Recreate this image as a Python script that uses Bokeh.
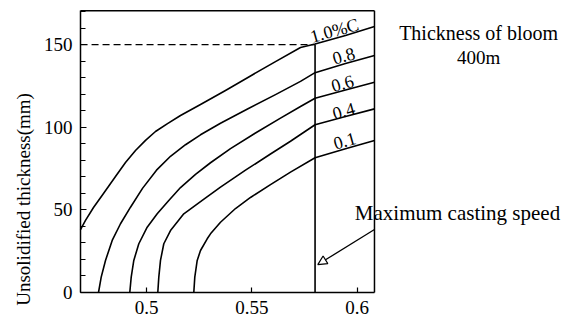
import math
from bokeh.plotting import figure
from bokeh.models import Range1d, FixedTicker, Label, Arrow, NormalHead
from bokeh.embed import file_html
from bokeh.resources import INLINE

# ---------------- data ----------------
# casting speed (x) vs unsolidified thickness in mm (y), one curve per carbon content
c10_x = [0.46868, 0.47105, 0.47485, 0.47959, 0.48529, 0.49003, 0.49478, 0.49953, 0.50427, 0.50997,
         0.51614, 0.52563, 0.53749, 0.54936, 0.56122, 0.57309, 0.58, 0.59445, 0.60821]
c10_y = [38.1, 43.6, 51.4, 59.9, 70.2, 78.6, 85.9, 92.0, 97.4, 102.2,
         107.1, 113.7, 122.2, 131.0, 139.7, 148.2, 150.3, 155.5, 160.9]

c08_x = [0.47722, 0.4785, 0.48054, 0.48372, 0.48766, 0.49241, 0.4981, 0.50475, 0.51139, 0.51851,
         0.52563, 0.53512, 0.54794, 0.56122, 0.57309, 0.58, 0.59445, 0.60821]
c08_y = [0.0, 9.3, 19.4, 31.5, 41.6, 51.6, 63.0, 74.0, 82.4, 89.4,
         95.4, 102.4, 111.0, 119.7, 127.7, 133.0, 138.5, 143.4]

c06_x = [0.49207, 0.49274, 0.49397, 0.49635, 0.50033, 0.50508, 0.51058, 0.51614, 0.52326, 0.53037,
         0.53987, 0.55173, 0.5636, 0.57309, 0.58, 0.59445, 0.60821]
c06_y = [0.0, 9.3, 19.4, 29.5, 39.5, 47.6, 55.7, 63.5, 71.5, 78.5,
         87.0, 96.5, 105.5, 112.5, 117.5, 122.5, 127.2]

c04_x = [0.50536, 0.50584, 0.50664, 0.50821, 0.51139, 0.5177, 0.52644, 0.53512, 0.54699, 0.55885,
         0.56834, 0.58, 0.59445, 0.60821]
c04_y = [0.0, 9.3, 19.4, 29.5, 37.5, 47.6, 55.7, 63.8, 74.0, 83.8,
         91.5, 101.5, 106.5, 111.1]

c01_x = [0.52245, 0.52292, 0.52406, 0.52563, 0.52881, 0.53037, 0.53512, 0.54224, 0.54936, 0.55885,
         0.56834, 0.58, 0.59445, 0.60821]
c01_y = [0.0, 9.3, 19.4, 25.4, 32.5, 35.5, 42.5, 50.8, 57.5, 65.3,
         72.8, 81.5, 87.0, 92.0]

curve_x = [c10_x, c08_x, c06_x, c04_x, c01_x]
curve_y = [c10_y, c08_y, c06_y, c04_y, c01_y]
curve_labels = ["1.0%C", "0.8", "0.6", "0.4", "0.1"]

x_ticks = [0.5, 0.55, 0.6]
x_tick_labels = ["0.5", "0.55", "0.6"]
y_ticks = [0, 50, 100, 150]
y_tick_labels = ["0", "50", "100", "150"]
y_minor_ticks = [0, 10, 20, 30, 40, 50, 60, 70, 80, 90, 100, 110, 120, 130, 140, 150, 160, 170]

max_casting_speed = 0.58
bloom_limit_mm = 150

# plot box limits (the drawn frame)
x_min, x_max = 0.4687, 0.6082
y_min, y_top = 0.0, 170.5

SERIF = "Liberation Serif"

# ---------------- figure ----------------
# the canvas itself is the frame; the axes sit at fixed locations inside it
p = figure(width=580, height=321, output_backend="svg", toolbar_location=None,
           x_range=Range1d(0.430707, 0.705980), y_range=Range1d(-17.54, 176.65),
           min_border_left=0, min_border_right=0, min_border_top=0, min_border_bottom=0)

p.background_fill_color = "white"
p.border_fill_color = "white"
p.outline_line_color = None
p.xgrid.visible = False
p.ygrid.visible = False

# axes
xa = p.xaxis[0]
xa.fixed_location = 0
xa.bounds = (x_min, x_max)
xa.ticker = FixedTicker(ticks=x_ticks)
xa.major_label_overrides = {t: l for t, l in zip(x_ticks, x_tick_labels)}
xa.major_tick_in = 5
xa.major_tick_out = 0
xa.minor_tick_in = 0
xa.minor_tick_out = 0
xa.axis_line_width = 1.5
xa.major_tick_line_width = 1.2
xa.major_label_standoff = 8
xa.major_label_text_font = SERIF
xa.major_label_text_font_size = "19px"
xa.major_label_text_color = "black"

ya = p.yaxis[0]
ya.fixed_location = x_min
ya.bounds = (y_min, y_top)
ya.ticker = FixedTicker(ticks=y_ticks, minor_ticks=y_minor_ticks)
ya.major_label_overrides = {t: l for t, l in zip(y_ticks, y_tick_labels)}
ya.major_tick_in = 6
ya.major_tick_out = 0
ya.minor_tick_in = 5
ya.minor_tick_out = 0
ya.axis_line_width = 1.5
ya.major_tick_line_width = 1.2
ya.minor_tick_line_width = 1.0
ya.major_label_standoff = 8
ya.major_label_text_font = SERIF
ya.major_label_text_font_size = "19px"
ya.major_label_text_color = "black"

# top and right edges of the plot box
p.line([x_min, x_max], [y_top, y_top], line_color="black", line_width=1.5)
p.line([x_max, x_max], [y_min, y_top], line_color="black", line_width=1.5)

# curves
for xs, ys in zip(curve_x, curve_y):
    p.line(xs, ys, line_color="black", line_width=1.6, line_join="round")

# maximum casting speed line and bloom-thickness dashed line
p.line([max_casting_speed, max_casting_speed], [0, bloom_limit_mm], line_color="black", line_width=1.6)
p.line([x_min, max_casting_speed], [bloom_limit_mm, bloom_limit_mm], line_color="black",
       line_width=1.2, line_dash="7 4")

# curve labels
label_pos = [(0.5892, 158.5), (0.5935, 143.4), (0.5930, 126.7), (0.5935, 110.0), (0.5940, 92.0)]
for (lx, ly), txt in zip(label_pos, curve_labels):
    p.add_layout(Label(x=lx, y=ly, text=txt, angle=0.27, text_align="center", text_baseline="middle",
                       text_font=SERIF, text_font_size="18px", text_color="black"))

# y axis title (placed like the reference, lower than the box centre)
p.add_layout(Label(x=0.4416, y=56.3, text="Unsolidified thickness(mm)", angle=math.pi / 2,
                   text_align="center", text_baseline="middle",
                   text_font=SERIF, text_font_size="19px", text_color="black"))

# right-side annotations
p.add_layout(Label(x=0.6576, y=156.7, text="Thickness of bloom", text_align="center",
                   text_baseline="middle", text_font=SERIF, text_font_size="20px", text_color="black"))
p.add_layout(Label(x=0.6576, y=142.2, text="400m", text_align="center",
                   text_baseline="middle", text_font=SERIF, text_font_size="19px", text_color="black"))
p.add_layout(Label(x=0.6476, y=47.8, text="Maximum casting speed", text_align="center",
                   text_baseline="middle", text_font=SERIF, text_font_size="21px", text_color="black"))

p.add_layout(Arrow(end=NormalHead(size=9, fill_color="white", line_color="black", line_width=1.2),
                   x_start=x_max, y_start=38.1, x_end=0.5813, y_end=16.9,
                   line_color="black", line_width=1.3))

open("out.html", "w").write(file_html(p, INLINE))
